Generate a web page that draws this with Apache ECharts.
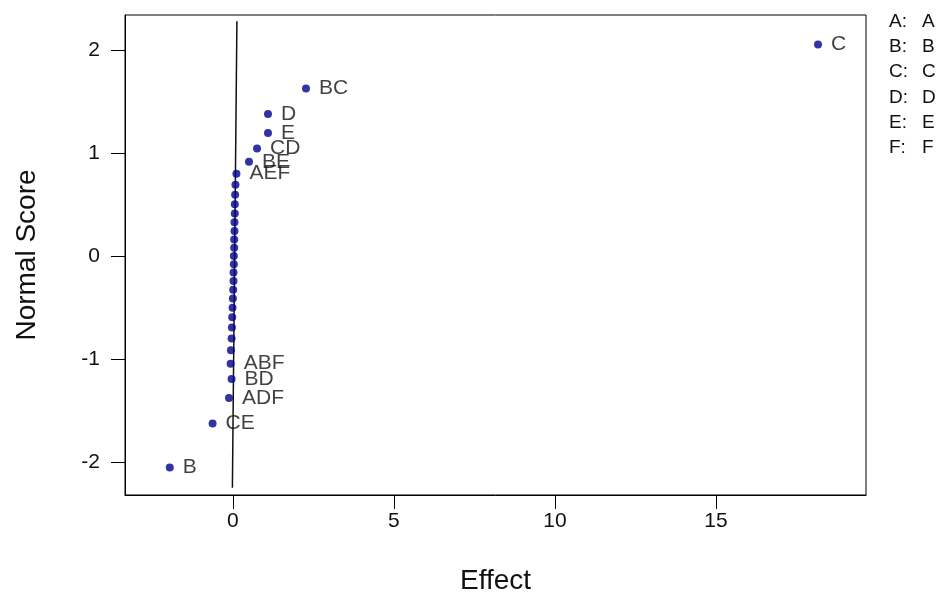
<!DOCTYPE html>
<html>
<head>
<meta charset="utf-8">
<script src="https://cdn.jsdelivr.net/npm/echarts@6/dist/echarts.min.js"></script>
<style>html,body{margin:0;padding:0;background:#fff;}#c{width:942px;height:608px;}</style>
</head>
<body>
<div id="c"></div>
<script>
// Effects (x) and their normal scores (y), in rank order
var effects = [-1.96, -0.63, -0.12, -0.04, -0.07, -0.06, -0.04, -0.03, -0.02, -0.01, 0.00, 0.01, 0.02, 0.02, 0.03, 0.03, 0.04, 0.04, 0.05, 0.05, 0.06, 0.06, 0.07, 0.08, 0.11, 0.50, 0.75, 1.09, 1.09, 2.27, 18.17];
var scores = [-2.054, -1.626, -1.379, -1.195, -1.045, -0.915, -0.800, -0.693, -0.595, -0.502, -0.412, -0.327, -0.243, -0.161, -0.080, 0.000, 0.080, 0.161, 0.243, 0.327, 0.412, 0.502, 0.595, 0.693, 0.800, 0.915, 1.045, 1.195, 1.379, 1.626, 2.054];
var pointLabels = ['B', 'CE', 'ADF', 'BD', 'ABF', '', '', '', '', '', '', '', '', '', '', '', '', '', '', '', '', '', '', '', 'AEF', 'BE', 'CD', 'E', 'D', 'BC', 'C'];
var xTicks = [0, 5, 10, 15];
var yTicks = [-2, -1, 0, 1, 2];
var fitLineX = [-0.015, 0.125];
var fitLineY = [-2.25, 2.28];
var legendKeys = ['A:', 'B:', 'C:', 'D:', 'E:', 'F:'];
var legendNames = ['A', 'B', 'C', 'D', 'E', 'F'];
</script>
<script>
var chart = echarts.init(document.getElementById('c'), null, {renderer: 'canvas'});
var FONT = 'Liberation Sans, Arial, sans-serif';
var pts = [];
for (var i = 0; i < scores.length; i++) {
  pts.push({value: [effects[i], scores[i]], name: pointLabels[i]});
}
var legendGraphics = [];
legendKeys.forEach(function (k, i) {
  legendGraphics.push({
    type: 'text', left: 889, top: 12 + i * 25.3,
    style: {text: k, fontSize: 19, fontFamily: FONT, fill: '#111'}
  });
  legendGraphics.push({
    type: 'text', left: 922, top: 12 + i * 25.3,
    style: {text: legendNames[i], fontSize: 19, fontFamily: FONT, fill: '#111'}
  });
});
chart.setOption({
  animation: false,
  backgroundColor: '#fff',
  grid: {left: 125, top: 15, right: 76, bottom: 113, show: true, borderColor: '#000', borderWidth: 1, backgroundColor: 'transparent'},
  xAxis: {
    type: 'value', min: -3.35, max: 19.66,
    name: 'Effect', nameLocation: 'middle', nameGap: 72,
    nameTextStyle: {fontSize: 28, fontFamily: FONT, color: '#111'},
    axisLine: {show: true, onZero: false, lineStyle: {color: '#000', width: 1}},
    axisTick: {show: true, inside: false, length: 14, customValues: xTicks, lineStyle: {color: '#000'}},
    axisLabel: {customValues: xTicks, fontSize: 21, fontFamily: FONT, color: '#111', margin: 16},
    splitLine: {show: false}
  },
  yAxis: {
    type: 'value', min: -2.32, max: 2.34,
    name: 'Normal Score', nameLocation: 'middle', nameGap: 84, nameRotate: 90,
    nameTextStyle: {fontSize: 28, fontFamily: FONT, color: '#111'},
    axisLine: {show: true, onZero: false, lineStyle: {color: '#000', width: 1}},
    axisTick: {show: true, inside: false, length: 14, customValues: yTicks, lineStyle: {color: '#000'}},
    axisLabel: {customValues: yTicks, fontSize: 21, fontFamily: FONT, color: '#111', margin: 25},
    splitLine: {show: false}
  },
  series: [
    {
      type: 'line', data: [[fitLineX[0], fitLineY[0]], [fitLineX[1], fitLineY[1]]],
      symbol: 'none', lineStyle: {color: '#111', width: 1.5}, silent: true, z: 1
    },
    {
      type: 'scatter', data: pts, symbol: 'circle', symbolSize: 8,
      itemStyle: {color: '#00008b'}, z: 3,
      label: {
        show: true, position: 'right', distance: 9,
        formatter: function (p) { return p.name; },
        fontSize: 21, fontFamily: FONT, color: '#111'
      },
      labelLayout: {hideOverlap: false}
    }
  ],
  graphic: legendGraphics
});
</script>
</body>
</html>
